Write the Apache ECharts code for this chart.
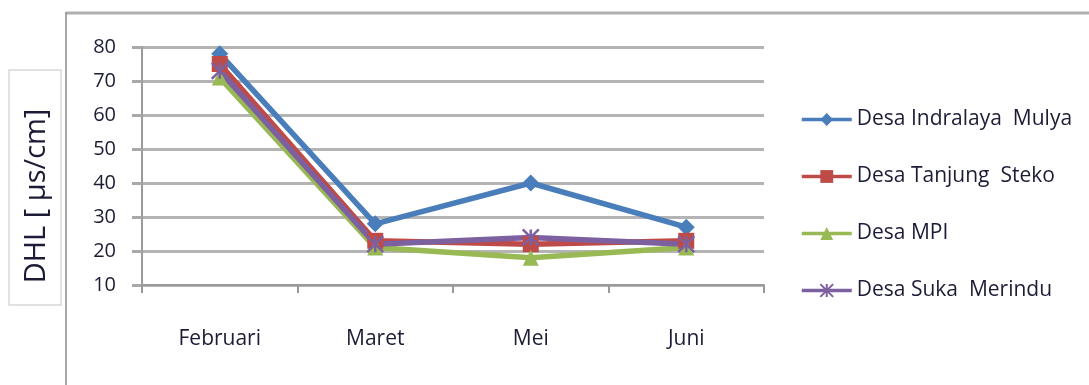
<!DOCTYPE html>
<html>
<head>
<meta charset="utf-8">
<script src="https://cdn.jsdelivr.net/npm/echarts@6/dist/echarts.min.js"></script>
<style>
  html, body { margin: 0; padding: 0; background: #fff; }
  #chart { width: 1089px; height: 385px; }
</style>
</head>
<body>
<div id="chart"></div>
<script>
// Months sampled
const months = ['Februari', 'Maret', 'Mei', 'Juni'];

// Electrical conductivity (DHL) per village, µs/cm
const indralayaMulya = [78, 28, 40, 27];
const tanjungSteko = [75, 23, 22, 23];
const desaMPI = [71, 21, 18, 21];
const sukaMerindu = [73, 22, 24, 22];

const seriesNames = ['Desa Indralaya  Mulya', 'Desa Tanjung  Steko', 'Desa MPI', 'Desa Suka  Merindu'];
const yTicks = { min: 10, max: 80, step: 10 };

const colors = ['#4a7ebb', '#be4b48', '#98b954', '#7d60a0'];
const crossPath = 'path://M0,0 L10,10 M10,0 L0,10 M5,0 L5,10';
const fontStack = 'Open Sans, Liberation Sans, sans-serif';
const textColor = '#1c1c36';

const chart = echarts.init(document.getElementById('chart'));

function lineSeries(name, data, color, symbol, size) {
  return {
    name: name,
    type: 'line',
    data: data,
    symbol: symbol,
    symbolSize: size,
    showAllSymbol: true,
    lineStyle: { color: color, width: 5.5 },
    itemStyle: symbol === crossPath
      ? { color: 'none', borderColor: color, borderWidth: 2.5 }
      : { color: color, borderWidth: 0 },
    emphasis: { disabled: true },
    z: 3
  };
}

chart.setOption({
  animation: false,
  backgroundColor: '#fff',
  textStyle: { fontFamily: fontStack },
  grid: { left: 142, right: 325, top: 47, bottom: 100 },
  xAxis: {
    type: 'category',
    data: months,
    boundaryGap: true,
    axisLine: { lineStyle: { color: '#9a9a9a', width: 2 } },
    axisTick: { show: true, length: 8, inside: false, lineStyle: { color: '#9a9a9a', width: 2 } },
    axisLabel: { color: textColor, fontSize: 21, margin: 44 }
  },
  yAxis: {
    type: 'value',
    min: yTicks.min,
    max: yTicks.max,
    interval: yTicks.step,
    axisLine: { show: true, lineStyle: { color: '#9a9a9a', width: 2 } },
    axisTick: { show: true, length: 10, lineStyle: { color: '#a8a8a8', width: 3 } },
    splitLine: { lineStyle: { color: '#b4b4b4', width: 3 } },
    axisLabel: { color: textColor, fontSize: 20, margin: 26 }
  },
  legend: {
    orient: 'vertical',
    left: 795,
    top: 104,
    itemGap: 36,
    itemWidth: 50,
    itemHeight: 16,
    lineStyle: { width: 3.5 },
    textStyle: { color: textColor, fontSize: 21 },
    data: seriesNames
  },
  graphic: [
    // frame: top edge and left edge
    { type: 'line', shape: { x1: 66, y1: 13, x2: 1089, y2: 13 }, style: { stroke: '#b0b0b0', lineWidth: 3 }, silent: true },
    { type: 'line', shape: { x1: 66, y1: 12, x2: 66, y2: 385 }, style: { stroke: '#8a8a8a', lineWidth: 1.5 }, silent: true },
    // y-axis title box
    { type: 'rect', shape: { x: 9, y: 70, width: 52, height: 235 }, style: { fill: '#fff', stroke: '#d8d8d8', lineWidth: 1.5 }, silent: true },
    {
      type: 'text',
      x: 37, y: 196,
      rotation: Math.PI / 2,
      style: { text: 'DHL [ µs/cm]', fill: textColor, font: '29px ' + fontStack, align: 'center', verticalAlign: 'middle' },
      silent: true
    }
  ],
  series: [
    lineSeries(seriesNames[0], indralayaMulya, colors[0], 'diamond', 17),
    lineSeries(seriesNames[1], tanjungSteko, colors[1], 'rect', 16),
    lineSeries(seriesNames[2], desaMPI, colors[2], 'triangle', 16),
    lineSeries(seriesNames[3], sukaMerindu, colors[3], crossPath, 16)
  ]
});
</script>
</body>
</html>
